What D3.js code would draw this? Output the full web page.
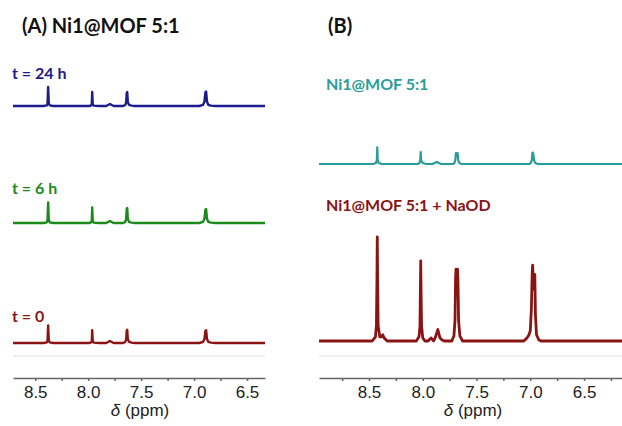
<!DOCTYPE html>
<html>
<head>
<meta charset="utf-8">
<title>Ni1@MOF NMR</title>
<script src="https://d3js.org/d3.v7.min.js"></script>
<style>
body { margin: 0; background: #fff; }
.lbl { font-family: Lato, "Open Sans", sans-serif; font-weight: bold; }
.axis text { font-family: "Liberation Sans", Arial, sans-serif; font-size: 17px; fill: #222; }
.axis path, .axis line { stroke: #666; stroke-width: 1.5; }
</style>
</head>
<body>
<div id="chart"></div>
<script>
// ppm, intensity (a.u.)
var spec24h = [
  [8.71,0],[8.42,0],[8.392,3],[8.384,12],[8.378,95],[8.372,12],[8.362,3],[8.33,0],
  [7.99,0],[7.972,3],[7.966,10],[7.962,70],[7.957,10],[7.948,2],[7.90,0],
  [7.83,0],[7.795,10],[7.76,0],
  [7.67,0],[7.65,5],[7.641,20],[7.636,66],[7.631,70],[7.626,20],[7.615,6],[7.59,2],[7.56,0],
  [6.95,0],[6.915,6],[6.902,22],[6.893,68],[6.886,72],[6.878,22],[6.866,6],[6.84,2],[6.80,0],[6.33,0]
];
var spec6h = [
  [8.71,0],[8.42,0],[8.392,3],[8.384,13],[8.378,103],[8.372,13],[8.362,3],[8.33,0],
  [7.99,0],[7.972,3],[7.966,11],[7.962,78],[7.957,11],[7.948,2],[7.90,0],
  [7.83,0],[7.795,10],[7.76,0],
  [7.67,0],[7.65,5],[7.641,22],[7.636,71],[7.631,75],[7.626,22],[7.615,6],[7.59,2],[7.56,0],
  [6.95,0],[6.915,6],[6.902,21],[6.893,66],[6.886,70],[6.878,21],[6.866,6],[6.84,2],[6.80,0],[6.33,0]
];
var spec0h = [
  [8.71,0],[8.42,0],[8.392,3],[8.384,11],[8.378,88],[8.372,11],[8.362,3],[8.33,0],
  [7.99,0],[7.972,3],[7.966,9],[7.962,64],[7.957,9],[7.948,2],[7.90,0],
  [7.83,0],[7.795,10],[7.76,0],
  [7.67,0],[7.65,5],[7.641,20],[7.636,62],[7.631,66],[7.626,20],[7.615,6],[7.59,2],[7.56,0],
  [6.95,0],[6.915,6],[6.902,20],[6.893,60],[6.886,64],[6.878,20],[6.866,6],[6.84,2],[6.80,0],[6.33,0]
];
var specMof = [
  [8.965,0],[8.46,0],[8.435,1],[8.427,4],[8.423,16],[8.419,4],[8.41,1],[8.38,0],
  [8.05,0],[8.03,1],[8.024,3],[8.019,11.5],[8.014,3],[8.0,1],[7.97,0],
  [7.91,0],[7.87,2],[7.83,0],
  [7.72,0],[7.705,1],[7.697,4],[7.692,10.5],[7.683,10],[7.676,10.5],[7.671,4],[7.66,1],[7.64,0],
  [7.01,0],[6.995,1],[6.985,4],[6.980,11],[6.972,10],[6.966,4],[6.955,1],[6.93,0],[6.147,0]
];
var specNaOD = [
  [8.965,0],
  [8.47,0],[8.44,4],[8.431,15],[8.426,60],[8.423,100],[8.420,60],[8.415,15],[8.40,4],[8.385,4],[8.372,6],[8.36,3],[8.33,0],
  [8.06,0],[8.035,4],[8.026,14],[8.022,50],[8.019,77],[8.016,50],[8.011,14],[8.0,3],[7.98,0],
  [7.95,0],[7.923,3],[7.90,0],[7.885,3],[7.860,11],[7.84,3],[7.82,1],[7.80,0],
  [7.73,0],[7.71,5],[7.70,20],[7.695,60],[7.691,69],[7.684,56],[7.677,69],[7.673,60],[7.667,20],[7.655,5],[7.63,0],
  [7.06,0],[7.03,3],[7.012,6],[7.0,10],[6.99,30],[6.982,66],[6.978,73],[6.970,50],[6.962,60],[6.958,64],[6.952,25],[6.942,6],[6.92,1],[6.90,0],
  [6.147,0]
];
var ticksA = [8.5, 8.25, 8.0, 7.75, 7.5, 7.25, 7.0, 6.75, 6.5];
var ticksB = [8.75, 8.5, 8.25, 8.0, 7.75, 7.5, 7.25, 7.0, 6.75, 6.5, 6.25];
var titleA = "(A) Ni1@MOF 5:1";
var titleB = "(B)";
var labelsA = ["t = 24 h", "t = 6 h", "t = 0"];
var labelsB = ["Ni1@MOF 5:1", "Ni1@MOF 5:1 + NaOD"];

var width = 622, height = 426;
var svg = d3.select("#chart").append("svg").attr("width", width).attr("height", height);

var xA = d3.scaleLinear().domain([8.71, 6.33]).range([13, 265]);
var xB = d3.scaleLinear().domain([8.965, 6.147]).range([319, 622]);
var hA = d3.scaleLinear().domain([0, 100]).range([0, 20]);
var hB = d3.scaleLinear().domain([0, 100]).range([0, 104]);

function drawSpec(data, x, h, base, color, sw) {
  var line = d3.line()
    .x(function(d){ return x(d[0]); })
    .y(function(d){ return base - h(d[1]); });
  svg.append("path").datum(data)
    .attr("d", line).attr("fill", "none")
    .attr("stroke", color).attr("stroke-width", sw)
    .attr("stroke-linejoin", "round");
}

var cNavy = "#1c1c8c", cGreen = "#1a8a1a", cRed = "#8a1414", cTeal = "#2a9c9c";

drawSpec(spec24h, xA, hA, 106, cNavy, 2.4);
drawSpec(spec6h, xA, hA, 223, cGreen, 2.4);
drawSpec(spec0h, xA, hA, 343, cRed, 2.4);
drawSpec(specMof, xB, hB, 164, cTeal, 2.2);
drawSpec(specNaOD, xB, hB, 341, cRed, 2.8);

// faint baseline
[xA, xB].forEach(function(x){
  svg.append("line")
    .attr("x1", x.range()[0]).attr("x2", x.range()[1])
    .attr("y1", 356).attr("y2", 356)
    .attr("stroke", "#ddd").attr("stroke-width", 1);
});

function fmt(d){ return Math.abs(d*2 - Math.round(d*2)) < 1e-6 ? d.toFixed(1) : ""; }

svg.append("g").attr("class", "axis").attr("transform", "translate(0,378)")
  .call(d3.axisBottom(xA).tickValues(ticksA).tickSize(3).tickSizeOuter(0).tickPadding(5).tickFormat(fmt));
svg.append("g").attr("class", "axis").attr("transform", "translate(0,378)")
  .call(d3.axisBottom(xB).tickValues(ticksB).tickSize(3).tickSizeOuter(0).tickPadding(5).tickFormat(fmt));
svg.selectAll(".axis .domain").attr("stroke", "#666");

[[xA, 140], [xB, 473]].forEach(function(p){
  var t = svg.append("text").attr("x", p[1]).attr("y", 416)
    .attr("text-anchor", "middle")
    .style("font-family", "'Liberation Sans', Arial, sans-serif").style("font-size", "17px").attr("fill", "#222");
  t.append("tspan").style("font-style", "italic").text("δ");
  t.append("tspan").text(" (ppm)");
});

svg.append("text").attr("class", "lbl").attr("x", 22).attr("y", 33)
  .style("font-size", "20px").attr("fill", "#111").text(titleA);
svg.append("text").attr("class", "lbl").attr("x", 328).attr("y", 33)
  .style("font-size", "20px").attr("fill", "#111").text(titleB);

var colA = [cNavy, cGreen, cRed], yA = [79, 194, 322];
labelsA.forEach(function(s, i){
  svg.append("text").attr("class", "lbl").attr("x", 12).attr("y", yA[i])
    .style("font-size", "16px").attr("fill", colA[i]).text(s);
});
var colB = [cTeal, cRed], yB = [90, 211];
labelsB.forEach(function(s, i){
  svg.append("text").attr("class", "lbl").attr("x", 326).attr("y", yB[i])
    .style("font-size", "16px").attr("fill", colB[i]).text(s);
});
</script>
</body>
</html>
